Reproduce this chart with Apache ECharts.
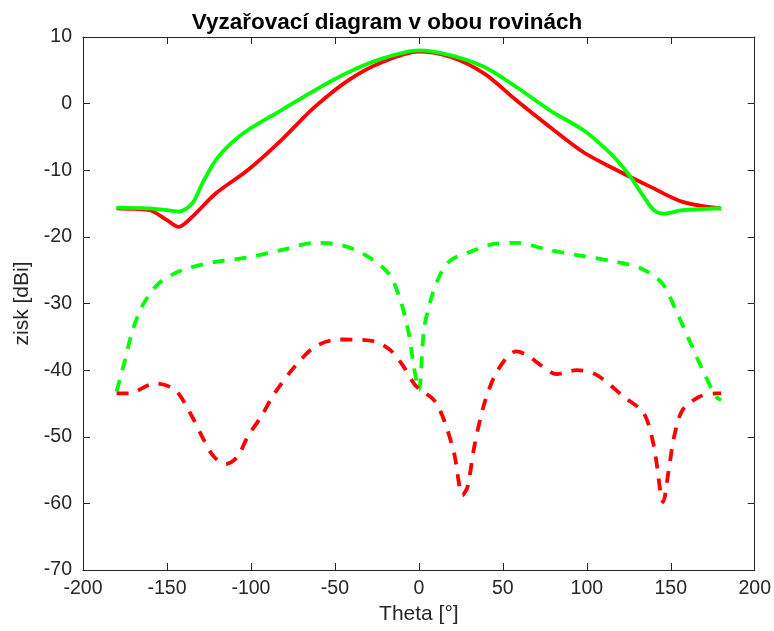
<!DOCTYPE html>
<html>
<head>
<meta charset="utf-8">
<script src="https://cdn.jsdelivr.net/npm/echarts@6/dist/echarts.min.js"></script>
<style>html,body{margin:0;padding:0;background:#fff}#c{width:774px;height:631px}</style>
</head>
<body>
<div id="c"></div>
<script>
var titleText = 'Vyzařovací diagram v obou rovinách';
var xName = 'Theta [°]';
var yName = 'zisk [dBi]';
var xTicks = [-200, 200, 50];
var yTicks = [-70, 10, 10];

var redSolidTheta = [-180, -170, -160, -150, -143, -135, -121, -102, -82, -62, -42, -22, 0, 19, 39, 58, 78, 98, 118, 138, 157, 180];
var redSolidGain  = [-15.7, -15.8, -16.0, -17.5, -18.5, -17, -13.5, -10, -5.5, -0.5, 3.5, 6.2, 7.8, 7.0, 4.5, 0.5, -3.5, -7.3, -10, -12.5, -14.75, -15.75];

var greenSolidTheta = [-180, -165, -153, -143, -135, -129, -121, -112, -102, -82, -62, -42, -22, 0, 19, 39, 58, 78, 98, 110, 118, 126, 134, 140, 146, 157, 180];
var greenSolidGain  = [-15.6, -15.7, -15.9, -16.2, -15, -12, -8.5, -6, -4, -1, 2, 4.7, 6.75, 8.0, 7.25, 5.5, 2.5, -1, -4, -6.5, -8.5, -11, -14, -16, -16.5, -16, -15.7];

var greenDashTheta = [-180, -175, -171, -165, -155, -141, -121, -102, -82, -62, -46, -32, -18, -11, -6, -3, 0, 3, 7, 13, 19, 29, 44, 58, 78, 98, 114, 132, 145, 153, 161, 169, 177, 180];
var greenDashGain  = [-43.2, -38.5, -34.5, -30.5, -27, -25, -23.75, -23.1, -22, -20.9, -21.25, -22.7, -25.5, -29.5, -34.5, -39.5, -43, -34, -29.5, -25.5, -23.5, -22.4, -21.1, -20.9, -22, -22.9, -23.6, -24.7, -27, -31, -35.5, -40, -44, -44.5];

var redDashTheta = [-180, -173, -157, -145, -135, -128, -122, -115, -108, -102, -94, -86, -74, -62, -48, -28, -17, -9, -3, 0, 9, 15, 21, 26, 29, 33, 39, 47, 58, 64, 74, 82, 94, 106, 122, 134, 140, 145.5, 148.5, 152, 157, 167, 177, 180];
var redDashGain  = [-43.5, -43.5, -42, -43, -47, -50.5, -53, -54.1, -53, -50, -47, -43.5, -39.5, -36.5, -35.4, -35.6, -37, -39.5, -42, -42.8, -44.5, -47.5, -52.5, -58.8, -57.5, -51.5, -45, -40, -37.2, -37.7, -39.5, -40.6, -40, -40.75, -44, -46.5, -51.5, -59.8, -55.5, -50, -46, -44, -43.5, -43.5];

function pairs(xs, ys) { return xs.map(function (x, i) { return [x, ys[i]]; }); }

var axisCol = '#262626';
var font = 'Liberation Sans, Arial, Helvetica, sans-serif';

function mkX(pos, show) {
  return {
    type: 'value', position: pos, min: xTicks[0], max: xTicks[1], interval: xTicks[2],
    name: show ? xName : '', nameLocation: 'middle', nameGap: 32,
    nameTextStyle: { fontFamily: font, fontSize: 21, color: axisCol },
    axisLine: { show: true, onZero: false, lineStyle: { color: axisCol, width: 1 } },
    axisTick: { show: true, inside: true, length: 7, lineStyle: { color: axisCol } },
    axisLabel: { show: show, margin: 9, fontFamily: font, fontSize: 19.5, color: axisCol },
    splitLine: { show: false }
  };
}
function mkY(pos, show) {
  return {
    type: 'value', position: pos, min: yTicks[0], max: yTicks[1], interval: yTicks[2],
    name: show ? yName : '', nameLocation: 'middle', nameGap: 47, nameRotate: 90,
    nameTextStyle: { fontFamily: font, fontSize: 21, color: axisCol },
    axisLine: { show: true, onZero: false, lineStyle: { color: axisCol, width: 1 } },
    axisTick: { show: true, inside: true, length: 7, lineStyle: { color: axisCol } },
    axisLabel: { show: show, margin: 11, fontFamily: font, fontSize: 19.5, color: axisCol },
    splitLine: { show: false }
  };
}
function mkSeries(xs, ys, color, dashed) {
  return {
    type: 'line', xAxisIndex: 0, yAxisIndex: 0,
    data: pairs(xs, ys), showSymbol: false, symbol: 'none',
    smooth: 0.3,
    lineStyle: { color: color, width: 3.8, type: dashed ? [12, 10] : 'solid', cap: 'butt' },
    animation: false
  };
}

var chart = echarts.init(document.getElementById('c'), null, { renderer: 'canvas' });
chart.setOption({
  animation: false,
  backgroundColor: '#ffffff',
  title: {
    text: titleText, left: 'center', top: 6,
    textStyle: { fontFamily: font, fontSize: 22.5, fontWeight: 'bold', color: '#000' }
  },
  grid: { left: 83, right: 18, top: 37, bottom: 61, containLabel: false },
  xAxis: [mkX('bottom', true), mkX('top', false)],
  yAxis: [mkY('left', true), mkY('right', false)],
  series: [
    mkSeries(redSolidTheta, redSolidGain, '#ff0000', false),
    mkSeries(greenSolidTheta, greenSolidGain, '#00ff00', false),
    mkSeries(greenDashTheta, greenDashGain, '#00ff00', true),
    mkSeries(redDashTheta, redDashGain, '#ff0000', true)
  ]
});
</script>
</body>
</html>
